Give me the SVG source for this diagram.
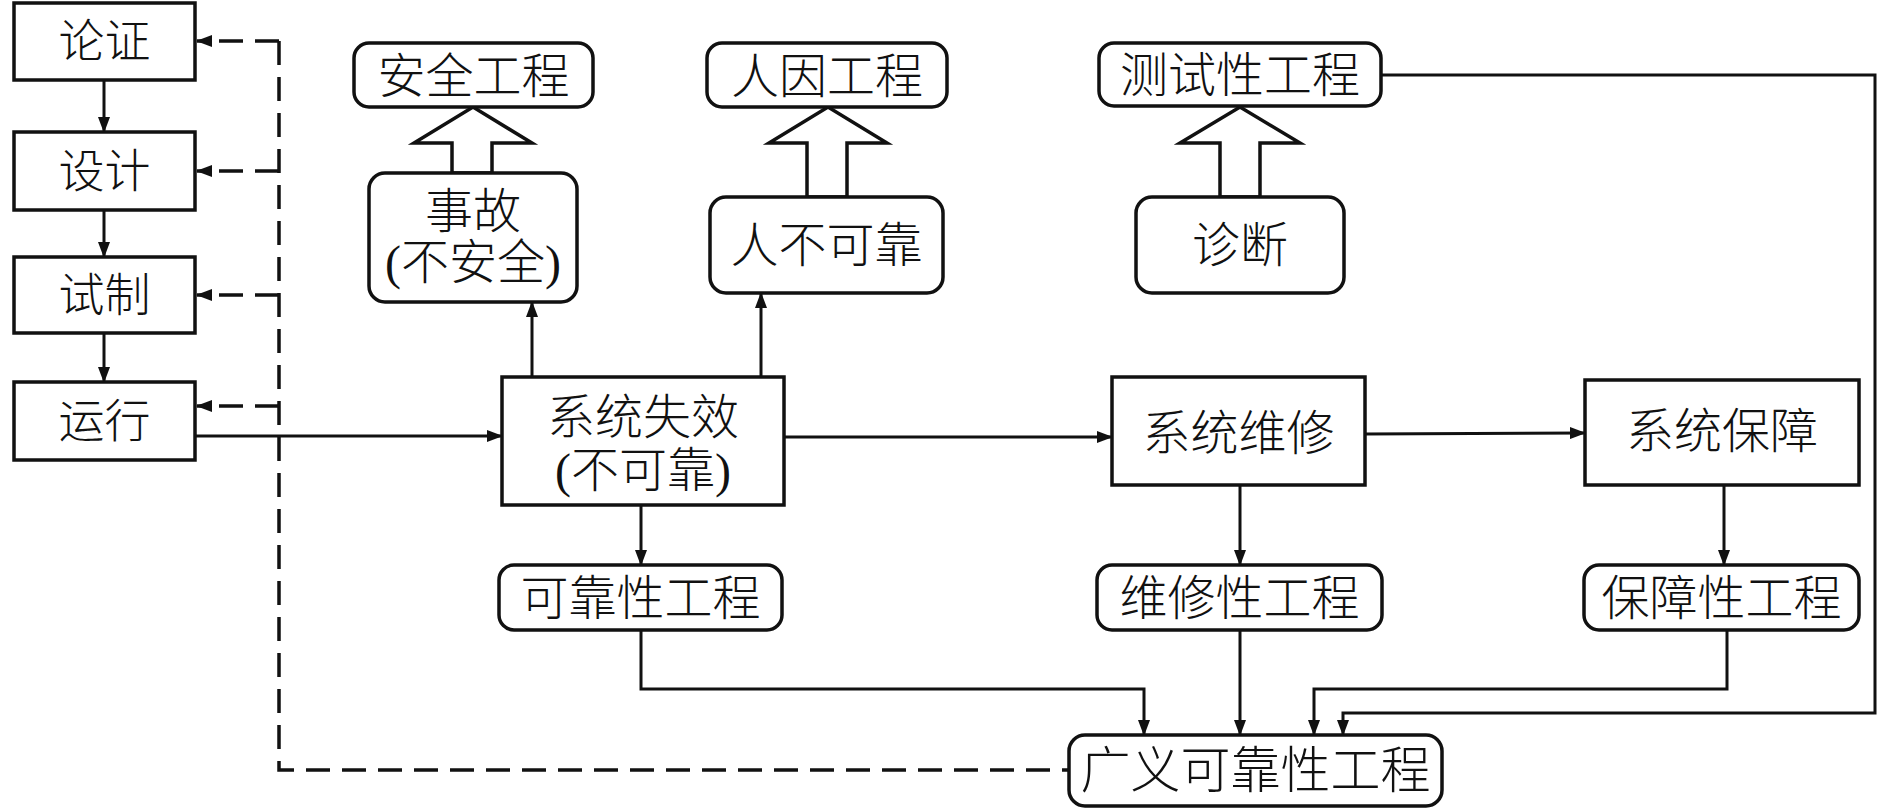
<svg xmlns="http://www.w3.org/2000/svg" width="1890" height="808" viewBox="0 0 1890 808">
<defs>
<marker id="ah" markerWidth="16" markerHeight="12" refX="15" refY="6" orient="auto" markerUnits="userSpaceOnUse">
<path d="M0,0 L16,6 L0,12 z" fill="#111"/>
</marker>
<style>
.box{fill:#fff;stroke:#111;stroke-width:3.5}
.big{fill:#fff;stroke:#111;stroke-width:3.5;stroke-linejoin:miter}
.ln{fill:none;stroke:#111;stroke-width:3}
.dash{fill:none;stroke:#111;stroke-width:3.5;stroke-dasharray:24 12}
.t{font-family:"Liberation Serif","Noto Sans CJK SC",serif;font-size:48px;fill:#111;text-anchor:middle;dominant-baseline:central;font-weight:300}
.ts{font-size:46px}
</style>
</defs>
<rect width="1890" height="808" fill="#fff"/>

<g id="connectors">
<line class="ln" x1="104" y1="80" x2="104" y2="132" marker-end="url(#ah)"/>
<line class="ln" x1="104" y1="210" x2="104" y2="257" marker-end="url(#ah)"/>
<line class="ln" x1="104" y1="333" x2="104" y2="382" marker-end="url(#ah)"/>
<path class="dash" d="M279,41 V770 H1069"/>
<path class="dash" d="M279,41 H197" stroke-dasharray="28 14" marker-end="url(#ah)"/>
<path class="dash" d="M279,171 H197" stroke-dasharray="28 14" marker-end="url(#ah)"/>
<path class="dash" d="M279,295 H197" stroke-dasharray="28 14" marker-end="url(#ah)"/>
<path class="dash" d="M279,406 H197" stroke-dasharray="28 14" marker-end="url(#ah)"/>
<line class="ln" x1="195" y1="436" x2="502" y2="436" marker-end="url(#ah)"/>
<line class="ln" x1="532" y1="377" x2="532" y2="302" marker-end="url(#ah)"/>
<line class="ln" x1="761" y1="377" x2="761" y2="293" marker-end="url(#ah)"/>
<line class="ln" x1="784" y1="437" x2="1112" y2="437" marker-end="url(#ah)"/>
<line class="ln" x1="1365" y1="434" x2="1585" y2="433" marker-end="url(#ah)"/>
<line class="ln" x1="641" y1="505" x2="641" y2="565" marker-end="url(#ah)"/>
<line class="ln" x1="1240" y1="485" x2="1240" y2="565" marker-end="url(#ah)"/>
<line class="ln" x1="1724" y1="485" x2="1724" y2="565" marker-end="url(#ah)"/>
<path class="ln" d="M641,630 V689 H1144 V735" marker-end="url(#ah)"/>
<line class="ln" x1="1240" y1="630" x2="1240" y2="735" marker-end="url(#ah)"/>
<path class="ln" d="M1727,630 V689 H1314 V735" marker-end="url(#ah)"/>
<path class="ln" d="M1381,75 H1875 V713 H1343 V735" marker-end="url(#ah)"/>
<polygon class="big" points="452,173 452,143 414,143 473,107 532,143 492,143 492,173"/>
<polygon class="big" points="807,197 807,143 769,143 828,107 887,143 847,143 847,197"/>
<polygon class="big" points="1220,197 1220,143 1180,143 1240,107 1300,143 1260,143 1260,197"/>
</g>

<g id="n-lunzheng"><rect class="box" x="14" y="3" width="181" height="77"/><text class="t ts" x="104.5" y="41">论证</text></g>
<g id="n-sheji"><rect class="box" x="14" y="132" width="181" height="78"/><text class="t ts" x="104.5" y="171">设计</text></g>
<g id="n-shizhi"><rect class="box" x="14" y="257" width="181" height="76"/><text class="t ts" x="104.5" y="295">试制</text></g>
<g id="n-yunxing"><rect class="box" x="14" y="382" width="181" height="78"/><text class="t ts" x="104.5" y="421">运行</text></g>

<g id="n-anquangongcheng"><rect class="box" x="354" y="43" width="239" height="64" rx="15"/><text class="t" x="473.5" y="76">安全工程</text></g>
<g id="n-shigu"><rect class="box" x="369" y="173" width="208" height="129" rx="16"/><text class="t" x="473" y="211">事故</text><text class="t" x="473" y="262">(不安全)</text></g>
<g id="n-renyingongcheng"><rect class="box" x="707" y="43" width="240" height="64" rx="15"/><text class="t" x="827" y="76">人因工程</text></g>
<g id="n-renbukekao"><rect class="box" x="710" y="197" width="233" height="96" rx="16"/><text class="t" x="826.5" y="245">人不可靠</text></g>
<g id="n-ceshixinggongcheng"><rect class="box" x="1099" y="43" width="282" height="63" rx="15"/><text class="t" x="1240" y="75">测试性工程</text></g>
<g id="n-zhenduan"><rect class="box" x="1136" y="197" width="208" height="96" rx="16"/><text class="t" x="1240" y="245">诊断</text></g>

<g id="n-xitongshixiao"><rect class="box" x="502" y="377" width="282" height="128"/><text class="t" x="643" y="417">系统失效</text><text class="t" x="643" y="470">(不可靠)</text></g>
<g id="n-xitongweixiu"><rect class="box" x="1112" y="377" width="253" height="108"/><text class="t" x="1238.5" y="433">系统维修</text></g>
<g id="n-xitongbaozhang"><rect class="box" x="1585" y="380" width="274" height="105"/><text class="t" x="1722" y="431">系统保障</text></g>

<g id="n-kekaoxinggongcheng"><rect class="box" x="499" y="565" width="283" height="65" rx="15"/><text class="t" x="640.5" y="598">可靠性工程</text></g>
<g id="n-weixiuxinggongcheng"><rect class="box" x="1097" y="565" width="285" height="65" rx="15"/><text class="t" x="1239.5" y="598">维修性工程</text></g>
<g id="n-baozhangxinggongcheng"><rect class="box" x="1584" y="565" width="275" height="65" rx="15"/><text class="t" x="1721.5" y="598">保障性工程</text></g>
<g id="n-guangyi"><rect class="box" x="1069" y="735" width="373" height="71" rx="16"/><text class="t" x="1255.5" y="771" style="font-size:50px">广义可靠性工程</text></g>
</svg>
